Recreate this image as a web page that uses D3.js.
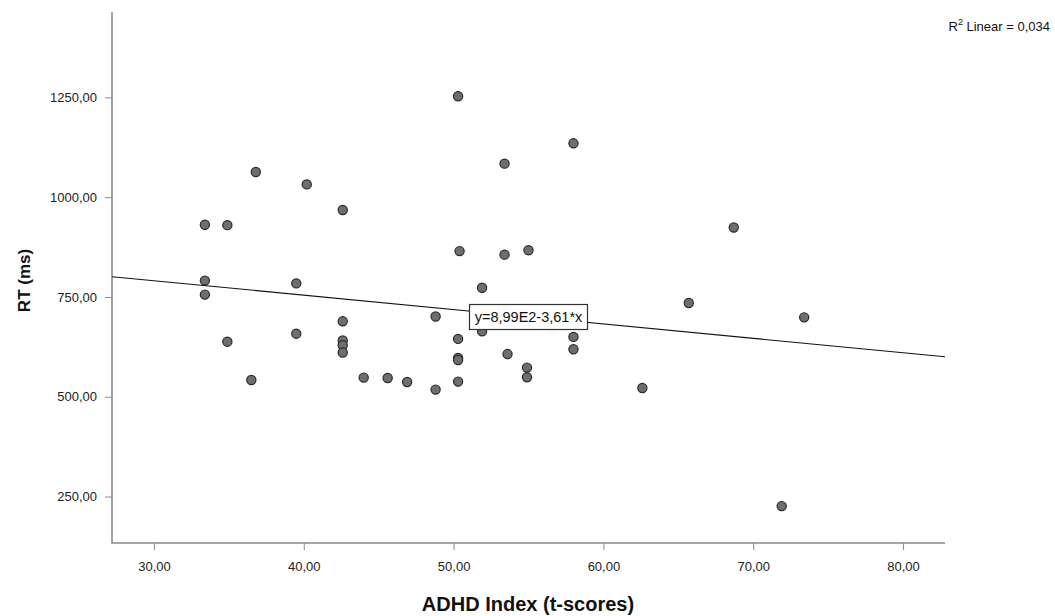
<!DOCTYPE html>
<html>
<head>
<meta charset="utf-8">
<script src="https://cdn.jsdelivr.net/npm/d3@7/dist/d3.min.js"></script>
<style>
  html, body { margin: 0; padding: 0; background: #fff; }
  svg { display: block; font-family: "Liberation Sans", Arial, sans-serif; }
</style>
</head>
<body>
<svg id="chart" width="1055" height="616"></svg>
<script>
// ADHD Index (t-scores) per participant
const adhdIndex = [
  33.4, 34.9, 36.8, 40.2, 42.6, 33.4, 33.4, 39.5, 34.9, 39.5,
  36.5, 42.6, 42.6, 42.6, 42.6, 44.0, 45.6, 46.9, 48.8, 48.8,
  50.3, 50.4, 50.3, 50.3, 50.3, 50.3, 51.9, 51.9, 53.4, 53.4,
  53.6, 55.0, 54.9, 54.9, 58.0, 58.0, 58.0, 62.6, 65.7, 68.7,
  71.9, 73.4
];
// Mean reaction time (ms) per participant
const reactionTime = [
  931, 930, 1063, 1032, 968, 791, 756, 784, 638, 658,
  542, 689, 641, 629, 611, 548, 547, 537, 518, 701,
  1253, 865, 645, 597, 592, 538, 773, 664, 1084, 856,
  607, 867, 573, 549, 1135, 650, 619, 522, 735, 924,
  226, 699
];
// Linear fit: y = intercept + slope * x
const fitIntercept = 899;
const fitSlope = -3.61;
const fitLabel = "y=8,99E2-3,61*x";
const rSquaredText = "0,034";

const xTicks = [30, 40, 50, 60, 70, 80];
const yTicks = [250, 500, 750, 1000, 1250];

const xDomain = [27.2, 82.8];
const yDomain = [133.6, 1464];

const svg = d3.select("#chart");
const plotLeft = 112, plotRight = 945, plotTop = 12, plotBottom = 543;

const x = d3.scaleLinear().domain(xDomain).range([plotLeft, plotRight]);
const y = d3.scaleLinear().domain(yDomain).range([plotBottom, plotTop]);

const fmt = v => d3.format(".2f")(v).replace(".", ",");
const axisColor = "#8a8a8a";

// Y axis
const yAxis = svg.append("g")
  .attr("transform", `translate(${plotLeft},0)`)
  .call(d3.axisLeft(y).tickValues(yTicks).tickFormat(fmt).tickSize(7).tickPadding(8).tickSizeOuter(0));
yAxis.select(".domain").remove();
yAxis.selectAll(".tick line").attr("stroke", axisColor);
yAxis.selectAll(".tick text").attr("fill", "#222").style("font-size", "13px")
  .style("font-family", "'Liberation Sans', Arial, sans-serif");

// X axis
const xAxis = svg.append("g")
  .attr("transform", `translate(0,${plotBottom})`)
  .call(d3.axisBottom(x).tickValues(xTicks).tickFormat(fmt).tickSize(7).tickPadding(12).tickSizeOuter(0));
xAxis.select(".domain").remove();
xAxis.selectAll(".tick line").attr("stroke", axisColor);
xAxis.selectAll(".tick text").attr("fill", "#222").style("font-size", "13px")
  .style("font-family", "'Liberation Sans', Arial, sans-serif");

// Axis frame lines (left and bottom)
svg.append("path")
  .attr("d", `M${plotLeft},${plotTop}V${plotBottom}H${plotRight}`)
  .attr("fill", "none")
  .attr("stroke", axisColor)
  .attr("stroke-width", 1.6);

// Axis titles
svg.append("text")
  .attr("x", 528)
  .attr("y", 611)
  .attr("text-anchor", "middle")
  .attr("font-size", "20px")
  .attr("font-weight", "bold")
  .attr("fill", "#111")
  .text("ADHD Index (t-scores)");

svg.append("text")
  .attr("transform", `translate(30,${(plotTop + plotBottom) / 2 + 3}) rotate(-90)`)
  .attr("text-anchor", "middle")
  .attr("font-size", "17px")
  .attr("font-weight", "bold")
  .attr("fill", "#111")
  .text("RT (ms)");

// Data points
svg.append("g")
  .selectAll("circle")
  .data(adhdIndex.map((v, i) => [v, reactionTime[i]]))
  .join("circle")
  .attr("cx", d => x(d[0]))
  .attr("cy", d => y(d[1]))
  .attr("r", 4.6)
  .attr("fill", "#6e6e6e")
  .attr("stroke", "#2a2a2a")
  .attr("stroke-width", 1.2);

// Regression line across the x range
const fitLine = xDomain.map(v => [v, fitIntercept + fitSlope * v]);
svg.append("path")
  .datum(fitLine)
  .attr("d", d3.line().x(d => x(d[0])).y(d => y(d[1])))
  .attr("fill", "none")
  .attr("stroke", "#111")
  .attr("stroke-width", 1.1);

// Equation label box
const labelG = svg.append("g");
labelG.append("rect")
  .attr("x", 469.5).attr("y", 304.5)
  .attr("width", 118).attr("height", 25)
  .attr("fill", "#fff")
  .attr("stroke", "#333")
  .attr("stroke-width", 1.2);
labelG.append("text")
  .attr("x", 528.5)
  .attr("y", 322)
  .attr("text-anchor", "middle")
  .attr("font-size", "14.5px")
  .attr("fill", "#111")
  .text(fitLabel);

// R squared annotation
const r2 = svg.append("text")
  .attr("x", 1050)
  .attr("y", 31)
  .attr("text-anchor", "end")
  .attr("font-size", "13px")
  .attr("fill", "#111");
r2.append("tspan").text("R");
r2.append("tspan").attr("dy", -6).attr("font-size", "9px").text("2");
r2.append("tspan").attr("dy", 6).text(" Linear = " + rSquaredText);
</script>
</body>
</html>
